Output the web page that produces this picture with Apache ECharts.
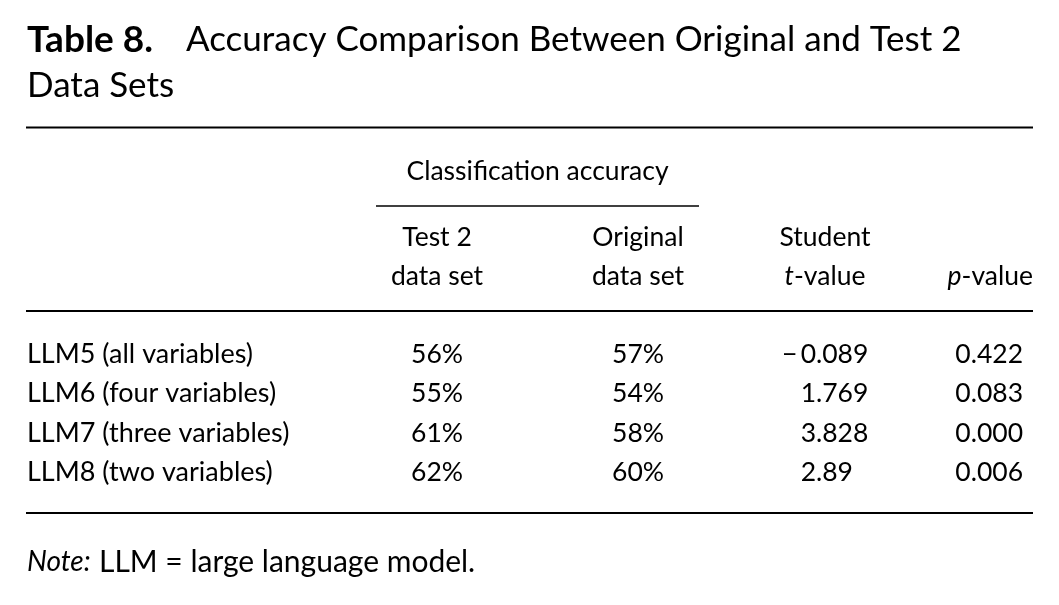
<!DOCTYPE html>
<html>
<head>
<meta charset="utf-8">
<script src="https://cdn.jsdelivr.net/npm/echarts@6/dist/echarts.min.js"></script>
<style>
html,body{margin:0;padding:0;background:#fff;}
#c{width:1059px;height:605px;}
</style>
</head>
<body>
<div id="c"></div>
<script>
// ---- Data ----
const titleLabel = 'Table 8.';
const titleText = 'Accuracy Comparison Between Original and Test 2';
const titleText2 = 'Data Sets';
const spanHeader = 'Classification accuracy';
const colHeaderTop = ['Test 2', 'Original', 'Student', ''];
const colHeaderBottom = ['data set', 'data set', '{i|t}{n|-value}', '{i|p}{n|-value}'];
const rowLabels = ['LLM5 (all variables)', 'LLM6 (four variables)', 'LLM7 (three variables)', 'LLM8 (two variables)'];
const test2Acc = ['56%', '55%', '61%', '62%'];
const originalAcc = ['57%', '54%', '58%', '60%'];
const tValues = ['\u22120.089', '1.769', '3.828', '2.89'];
const pValues = ['0.422', '0.083', '0.000', '0.006'];
const noteLabel = 'Note:';
const noteText = 'LLM = large language model.';

// ---- Layout ----
const FF = 'Lato, "Open Sans", sans-serif';
const BODY = 26.5;
const INK = '#000';
const L = 26, R = 1033;
const colX = { test2: 437, orig: 638, tDec: 816, tCenter: 825, pRight: 1023 };
const rowY = [354, 393.5, 433, 472.5];

function txt(x, y, text, opts) {
  opts = opts || {};
  const size = opts.size || BODY;
  const style = {
    text: text,
    fill: INK,
    fontFamily: FF,
    fontSize: size,
    fontWeight: opts.weight || 'normal',
    fontStyle: opts.style || 'normal',
    align: opts.align || 'left',
    textAlign: opts.align || 'left',
    verticalAlign: 'middle',
    textVerticalAlign: 'middle'
  };
  if (opts.rich) {
    style.rich = {
      n: { fontFamily: FF, fontSize: size, fill: INK, color: INK },
      i: { fontFamily: FF, fontSize: size, fontStyle: 'italic', fill: INK, color: INK }
    };
  }
  return { type: 'text', x: x, y: y, silent: true, style: style };
}
function rule(x1, x2, y, w) {
  return { type: 'line', silent: true, shape: { x1: x1, y1: y, x2: x2, y2: y }, style: { stroke: INK, lineWidth: w } };
}

const els = [];
// Title
els.push(txt(27, 40, titleLabel, { size: 37, weight: 'bold' }));
els.push(txt(186, 40, titleText, { size: 35 }));
els.push(txt(27, 86, titleText2, { size: 35 }));
// Rules
els.push(rule(L, R, 127.5, 2));
els.push(rule(376, 699, 206, 1.6));
els.push(rule(L, R, 311, 2));
els.push(rule(L, R, 513, 2));
// Headers
els.push(txt(537.5, 171.5, spanHeader, { align: 'center' }));
els.push(txt(colX.test2, 237, colHeaderTop[0], { align: 'center' }));
els.push(txt(colX.orig, 237, colHeaderTop[1], { align: 'center' }));
els.push(txt(colX.tCenter, 237, colHeaderTop[2], { align: 'center' }));
els.push(txt(colX.test2, 276, colHeaderBottom[0], { align: 'center' }));
els.push(txt(colX.orig, 276, colHeaderBottom[1], { align: 'center' }));
els.push(txt(colX.tCenter, 276, colHeaderBottom[2], { align: 'center', rich: true }));
els.push(txt(R, 276, colHeaderBottom[3], { align: 'right', rich: true }));
// Body rows
rowLabels.forEach(function (lab, i) {
  const y = rowY[i];
  els.push(txt(27, y, lab, { size: 27 }));
  els.push(txt(colX.test2, y, test2Acc[i], { align: 'center' }));
  els.push(txt(colX.orig, y, originalAcc[i], { align: 'center' }));
  const parts = tValues[i].split('.');
  els.push(txt(colX.tDec, y, parts[0].replace('\u2212', '\u2212\u2009'), { align: 'right' }));
  els.push(txt(colX.tDec, y, '.' + parts[1], { align: 'left' }));
  els.push(txt(colX.pRight, y, pValues[i], { align: 'right' }));
});
// Note
els.push(txt(27, 562, noteLabel, { style: 'italic', size: 28 }));
els.push(txt(99, 562, noteText, { size: 30 }));

const chart = echarts.init(document.getElementById('c'), null, { renderer: 'canvas' });
chart.setOption({
  animation: false,
  backgroundColor: '#fff',
  graphic: { elements: els }
});
</script>
</body>
</html>
